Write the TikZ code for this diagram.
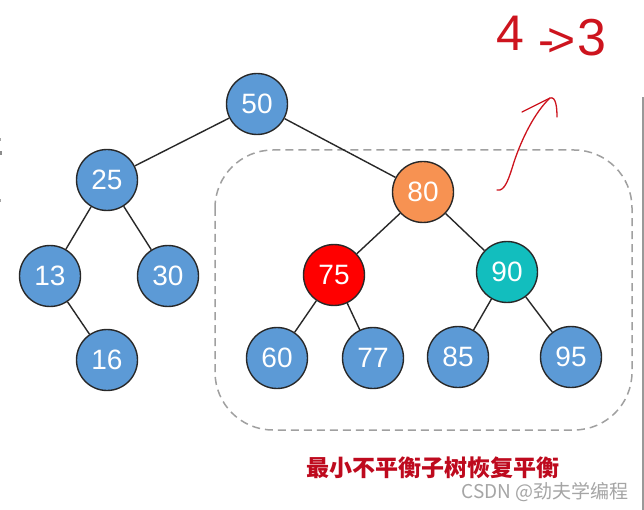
\documentclass[tikz,border=0pt]{standalone}
\usepackage{fontspec}
\newfontfamily\numfont{Liberation Sans}
\newfontfamily\cjk{Noto Sans CJK SC}
\definecolor{nblue}{RGB}{92,154,214}
\definecolor{norange}{RGB}{247,146,82}
\definecolor{nred}{RGB}{255,0,0}
\definecolor{nteal}{RGB}{18,190,190}
\definecolor{nedge}{RGB}{40,40,40}
\definecolor{dashgray}{RGB}{160,160,160}
\definecolor{title}{RGB}{190,10,30}
\definecolor{hand}{RGB}{205,20,30}
\definecolor{wm}{RGB}{165,165,165}
\tikzset{
  tnode/.style={circle, draw=nedge, line width=1.4pt, minimum size=61pt, inner sep=0pt,
    text=white, font=\numfont\fontsize{28}{28}\selectfont, fill=nblue},
  tedge/.style={draw=nedge, line width=1.4pt},
  handline/.style={draw=hand, line width=1.3pt, line cap=round, line join=round},
}
\begin{document}
\begin{tikzpicture}[x=1pt,y=-1pt]
\useasboundingbox (0,0) rectangle (644,510);
\fill[white] (0,0) rectangle (644,510);
% screenshot artefacts
\fill[gray!80] (641.5,97) rectangle (644,510);
\fill[gray!70] (0,138) rectangle (1.2,141);
\fill[gray!90] (0,151) rectangle (1.5,155);
\fill[gray!70] (0,199) rectangle (1.2,202);
% dashed region
\draw[dashgray, line width=1.5pt, dash pattern=on 8pt off 5pt, rounded corners=58pt]
  (215,150) rectangle (632,430);
% nodes
\node[tnode] (n50) at (257,104) {50};
\node[tnode] (n25) at (107,180) {25};
\node[tnode, fill=norange] (n80) at (423,192) {80};
\node[tnode] (n13) at (50,276) {13};
\node[tnode] (n30) at (168,276) {30};
\node[tnode, fill=nred] (n75) at (334,275) {75};
\node[tnode, fill=nteal] (n90) at (507,272) {90};
\node[tnode] (n16) at (107,360) {16};
\node[tnode] (n60) at (277,358) {60};
\node[tnode] (n77) at (373,358) {77};
\node[tnode] (n85) at (458,357) {85};
\node[tnode] (n95) at (571,357) {95};
% edges
\draw[tedge] (n50) -- (n25);
\draw[tedge] (n50) -- (n80);
\draw[tedge] (n25) -- (n13);
\draw[tedge] (n25) -- (n30);
\draw[tedge] (n13) -- (n16);
\draw[tedge] (n80) -- (n75);
\draw[tedge] (n80) -- (n90);
\draw[tedge] (n75) -- (n60);
\draw[tedge] (n75) -- (n77);
\draw[tedge] (n90) -- (n85);
\draw[tedge] (n90) -- (n95);
% caption
\node[text=title, font=\cjk\bfseries\fontsize{23}{23}\selectfont, inner sep=0pt] (cap) at (433,468) {最小不平衡子树恢复平衡};
\node[text=wm, font=\cjk\fontsize{19}{19}\selectfont, inner sep=0pt, anchor=east] (wmk) at (629,492) {CSDN @劲夫学编程};
% handwriting
\node[text=hand, font=\numfont\fontsize{50}{50}\selectfont, inner sep=0pt] (h4) at (510,33) {4};
\node[text=hand, font=\numfont\fontsize{48}{48}\selectfont, inner sep=0pt] (harr) at (557,43) {-\kern-6pt>};
\node[text=hand, font=\numfont\fontsize{52}{52}\selectfont, inner sep=0pt] (h3) at (592,38) {3};
\coordinate (as) at (497,190);
\coordinate (at) at (550,98);
\coordinate (al) at (522,112);
\coordinate (ar) at (557,117);
\draw[handline] (as) .. controls (505,192) and (509,178) .. (514,162)
  .. controls (522,138) and (535,112) .. (at);
\draw[handline] (al) -- (at) .. controls (556,96) and (557,108) .. (ar);
\end{tikzpicture}
\end{document}
